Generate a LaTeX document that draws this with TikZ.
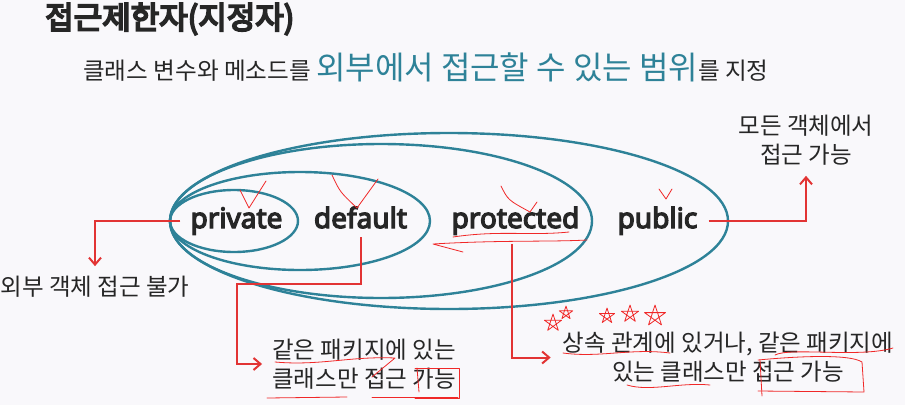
\documentclass[tikz,border=0pt]{standalone}
\usepackage{fontspec}
\setmainfont{Noto Sans CJK KR}
\newfontfamily\titlefont{Noto Sans CJK KR}[FakeBold=6]
\newfontfamily\keyfont{Noto Sans}[FakeBold=4.5]
\usetikzlibrary{arrows.meta}
\definecolor{rangeteal}{RGB}{46,130,152}
\definecolor{arrowred}{RGB}{226,52,52}
\definecolor{inkred}{RGB}{240,40,40}
\definecolor{pagebg}{RGB}{249,248,251}
\definecolor{inkdark}{RGB}{38,38,38}

\begin{document}
\begin{tikzpicture}[x=1pt,y=-1pt,
    reachring/.style={draw=rangeteal,line width=2.4pt},
    keyword/.style={font=\keyfont\fontsize{28}{32}\selectfont,text=inkdark,anchor=base,inner sep=0pt},
    note/.style={font=\fontsize{23.5}{29}\selectfont,text=inkdark,align=center,inner sep=0pt},
    pointer/.style={draw=arrowred,line width=2pt,-{Straight Barb[length=7pt,width=12pt]}},
    scribble/.style={draw=inkred,line width=0.8pt,line cap=round,line join=round}]

    % page
    \fill[pagebg] (0,0) rectangle (905,405);
    \useasboundingbox (0,0) rectangle (905,405);

    % heading
    \node[font=\titlefont\fontsize{31}{36}\selectfont,text=inkdark,anchor=west,inner sep=0pt] (title) at (45,19) {접근제한자(지정자)};
    \node[text=inkdark,anchor=base west,inner sep=0pt] (lead) at (83,79)
        {\fontsize{23.6}{28}\selectfont 클래스 변수와 메소드를 {\color{rangeteal}\fontsize{32}{36}\selectfont 외부에서 접근할 수 있는 범위}를 지정};

    % nested ranges
    \draw[reachring] (449,221) ellipse [x radius=279, y radius=88];
    \draw[reachring] (381,221) ellipse [x radius=211, y radius=77];
    \draw[reachring] (300,221) ellipse [x radius=130, y radius=49];
    \draw[reachring] (234,221) ellipse [x radius=64, y radius=31];

    \node[keyword] (private) at (236.5,228) {private};
    \node[keyword] (default) at (360.5,228) {default};
    \node[keyword] (protected) at (515.5,228) {protected};
    \node[keyword] (public) at (657.5,228) {public};

    % notes
    \node[note] (outside) at (95,287) {외부 객체 접근 불가};
    \node[note] (samepkg) at (364,364) {같은 패키지에 있는\\클래스만 접근 가능};
    \node[note] (inherit) at (728,357.5) {상속 관계에 있거나, 같은 패키지에\\있는 클래스만 접근 가능};
    \node[note] (everyone) at (806,140.5) {모든 객체에서\\접근 가능};

    % pointers
    \draw[pointer] ([xshift=-10pt]private.west) -| ([yshift=10pt]outside.north);
    \draw[pointer] ([yshift=-9pt]default.south) |- (237,284) |- ([xshift=-10pt]samepkg.west);
    \draw[pointer] ([xshift=-4pt,yshift=-9pt]protected.south) |- ([xshift=-12pt]inherit.west);
    \draw[pointer] ([xshift=11pt]public.east) -| ([yshift=-10pt]everyone.south);

    % hand marks
    \draw[scribble] (240,190) -- (249,208) -- (266,181);
    \draw[scribble] (332,175) .. controls (340,192) .. (357,208) -- (378,179);
    \draw[scribble] (501,186) .. controls (508,200) .. (530,212) -- (537,202);
    \draw[scribble] (659,189) -- (666,199) -- (672,189);
    \draw[scribble] (453,237) .. controls (500,230) and (530,236) .. (569,232);
    \draw[scribble] (463,252) -- (433,244) .. controls (500,240) and (550,242) .. (587,240);
    \draw[scribble] (275,362) .. controls (320,366) and (350,356) .. (395,358) -- (372,377);
    \draw[scribble] (415,368) -- (459,368) -- (459,398) -- (415,398);
    \draw[scribble] (417,368) -- (419,392);
    \draw[scribble] (267,398) -- (347,397);
    \draw[scribble] (372,397) -- (458,397);
    \draw[scribble] (563,353) .. controls (600,358) and (630,348) .. (670,353);
    \draw[scribble] (775,355) .. controls (790,347) and (860,358) .. (893,348);
    \draw[scribble] (627,385) .. controls (650,392) and (680,382) .. (710,385);
    \draw[scribble] (758,360) .. controls (800,356) and (850,354) .. (862,362) -- (864,392) -- (758,391);
    \draw[scribble] (760,360) -- (762,396);
    \foreach \cx/\cy/\r in {553/323/9, 566/313/7, 607/316/8, 630/314/9, 655/316/11}
        \draw[scribble] (\cx,\cy) +(-90:\r) -- +(54:\r) -- +(198:\r) -- +(-18:\r) -- +(126:\r) -- cycle;
\end{tikzpicture}
\end{document}
